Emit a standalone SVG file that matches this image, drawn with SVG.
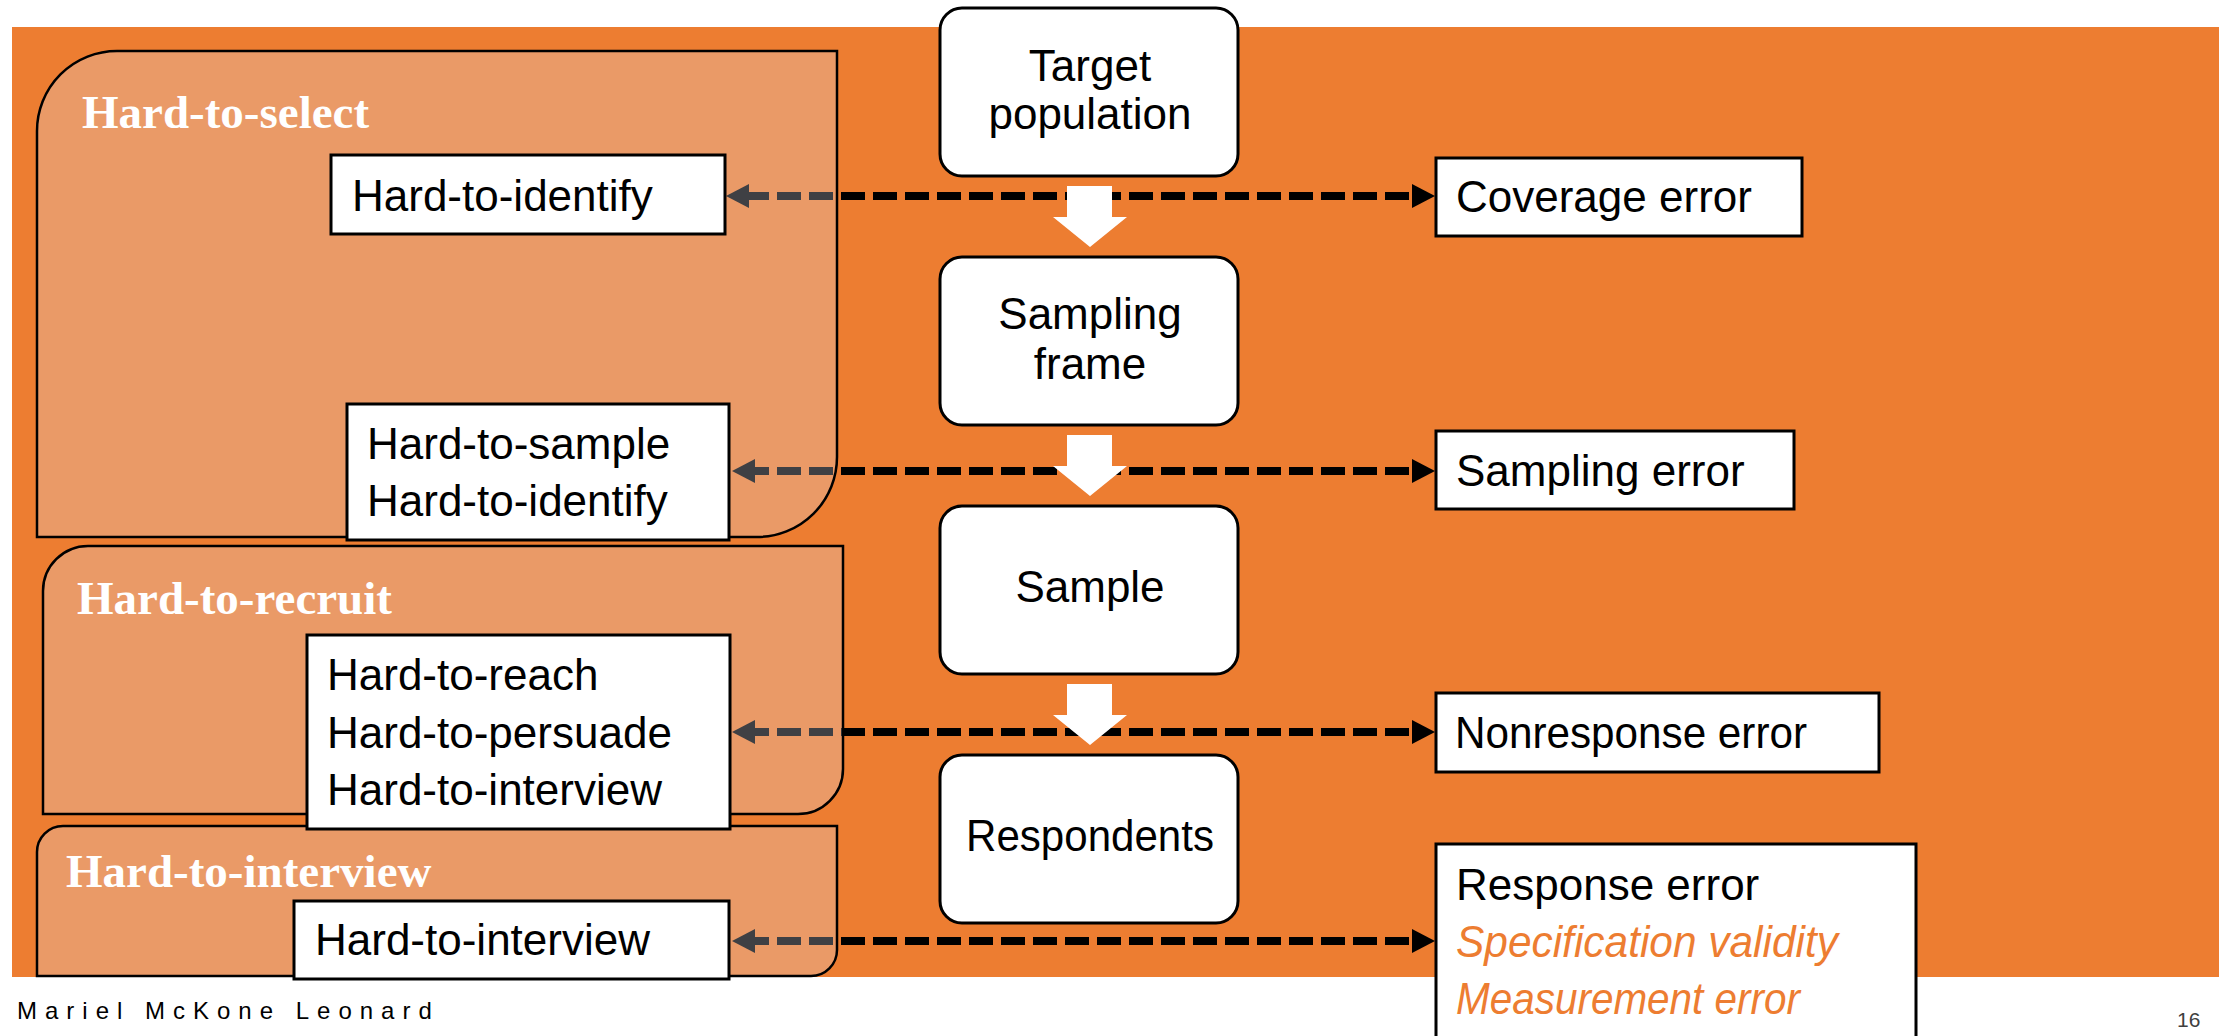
<svg xmlns="http://www.w3.org/2000/svg" width="2233" height="1036" viewBox="0 0 2233 1036">
<style>
.lbl{font-family:"Liberation Sans",Arial,sans-serif;font-size:44px;fill:#000}
.mid{text-anchor:middle}
.err{fill:#ED7D31;font-style:italic}
.ttl{font-family:"Liberation Serif","Times New Roman",serif;font-size:47px;font-weight:bold;fill:#fff}
.box{fill:#fff;stroke:#000;stroke-width:3}
.panel{fill:rgb(226,231,243);fill-opacity:0.28;stroke:#000;stroke-width:2.5}
.dash{stroke:#000;stroke-width:8;stroke-dasharray:24 8;fill:none}
.blk{fill:#fff}
</style>
<defs>
<marker id="ah" viewBox="0 0 23 24" refX="0" refY="12" markerWidth="23" markerHeight="24" markerUnits="userSpaceOnUse" orient="auto-start-reverse">
<path d="M0,0L23,12L0,24z" fill="#000"/>
</marker>
</defs>
<rect x="0" y="0" width="2233" height="1036" fill="#fff"/>
<rect x="12" y="27" width="2207" height="950" fill="#ED7D31"/>

<g id="connectors">
<line class="dash" x1="749" y1="196" x2="1412" y2="196" stroke-dashoffset="4" marker-start="url(#ah)" marker-end="url(#ah)"/>
<line class="dash" x1="755" y1="471" x2="1412" y2="471" stroke-dashoffset="10" marker-start="url(#ah)" marker-end="url(#ah)"/>
<line class="dash" x1="755" y1="732" x2="1412" y2="732" stroke-dashoffset="10" marker-start="url(#ah)" marker-end="url(#ah)"/>
<line class="dash" x1="755" y1="941" x2="1412" y2="941" stroke-dashoffset="10" marker-start="url(#ah)" marker-end="url(#ah)"/>
<polygon class="blk" points="1067,186 1112,186 1112,217 1127,217 1090,247 1053,217 1067,217"/>
<polygon class="blk" points="1067,435 1112,435 1112,466 1127,466 1090,496 1053,466 1067,466"/>
<polygon class="blk" points="1067,684 1112,684 1112,715 1127,715 1090,745 1053,715 1067,715"/>
</g>

<g id="panel-select">
<path class="panel" d="M37,131A80,80 0 0 1 117,51H837V457A80,80 0 0 1 757,537H37Z"/>
<text class="ttl" x="82" y="128">Hard-to-select</text>
</g>
<g id="panel-recruit">
<path class="panel" d="M43,591A45,45 0 0 1 88,546H843V769A45,45 0 0 1 798,814H43Z"/>
<text class="ttl" x="77" y="614">Hard-to-recruit</text>
</g>
<g id="panel-interview">
<path class="panel" d="M37,852A26,26 0 0 1 63,826H837V950A26,26 0 0 1 811,976H37Z"/>
<text class="ttl" x="66" y="887">Hard-to-interview</text>
</g>

<g id="hard-identify">
<rect class="box" x="331" y="155" width="394" height="79"/>
<text class="lbl" x="352" y="211">Hard-to-identify</text>
</g>
<g id="hard-sample">
<rect class="box" x="347" y="404" width="382" height="136"/>
<text class="lbl" x="367" y="459">Hard-to-sample</text>
<text class="lbl" x="367" y="516">Hard-to-identify</text>
</g>
<g id="hard-reach">
<rect class="box" x="307" y="635" width="423" height="194"/>
<text class="lbl" x="327" y="690">Hard-to-reach</text>
<text class="lbl" x="327" y="748">Hard-to-persuade</text>
<text class="lbl" x="327" y="805">Hard-to-interview</text>
</g>
<g id="hard-interview">
<rect class="box" x="294" y="901" width="435" height="78"/>
<text class="lbl" x="315" y="955">Hard-to-interview</text>
</g>

<g id="target-population">
<rect class="box" x="940" y="8" width="298" height="168" rx="22"/>
<text class="lbl mid" x="1090" y="81">Target</text>
<text class="lbl mid" x="1090" y="129">population</text>
</g>
<g id="sampling-frame">
<rect class="box" x="940" y="257" width="298" height="168" rx="22"/>
<text class="lbl mid" x="1090" y="329">Sampling</text>
<text class="lbl mid" x="1090" y="379">frame</text>
</g>
<g id="sample">
<rect class="box" x="940" y="506" width="298" height="168" rx="22"/>
<text class="lbl mid" x="1090" y="602">Sample</text>
</g>
<g id="respondents">
<rect class="box" x="940" y="755" width="298" height="168" rx="22"/>
<text class="lbl mid" x="1090" y="851" textLength="248" lengthAdjust="spacingAndGlyphs">Respondents</text>
</g>

<g id="coverage-error">
<rect class="box" x="1436" y="158" width="366" height="78"/>
<text class="lbl" x="1456" y="212">Coverage error</text>
</g>
<g id="sampling-error">
<rect class="box" x="1436" y="431" width="358" height="78"/>
<text class="lbl" x="1456" y="486">Sampling error</text>
</g>
<g id="nonresponse-error">
<rect class="box" x="1436" y="693" width="443" height="79"/>
<text class="lbl" x="1455" y="748" textLength="352" lengthAdjust="spacingAndGlyphs">Nonresponse error</text>
</g>
<g id="response-error">
<rect class="box" x="1436" y="844" width="480" height="220"/>
<text class="lbl" x="1456" y="900">Response error</text>
<text class="lbl err" x="1456" y="957" textLength="382" lengthAdjust="spacingAndGlyphs">Specification validity</text>
<text class="lbl err" x="1456" y="1014" textLength="344" lengthAdjust="spacingAndGlyphs">Measurement error</text>
</g>

<text x="17" y="1019" font-family="'Liberation Sans',Arial,sans-serif" font-size="24" letter-spacing="8" fill="#000">Mariel McKone Leonard</text>
<text x="2177" y="1027" font-family="'Liberation Sans',Arial,sans-serif" font-size="21" fill="#404040">16</text>
</svg>
